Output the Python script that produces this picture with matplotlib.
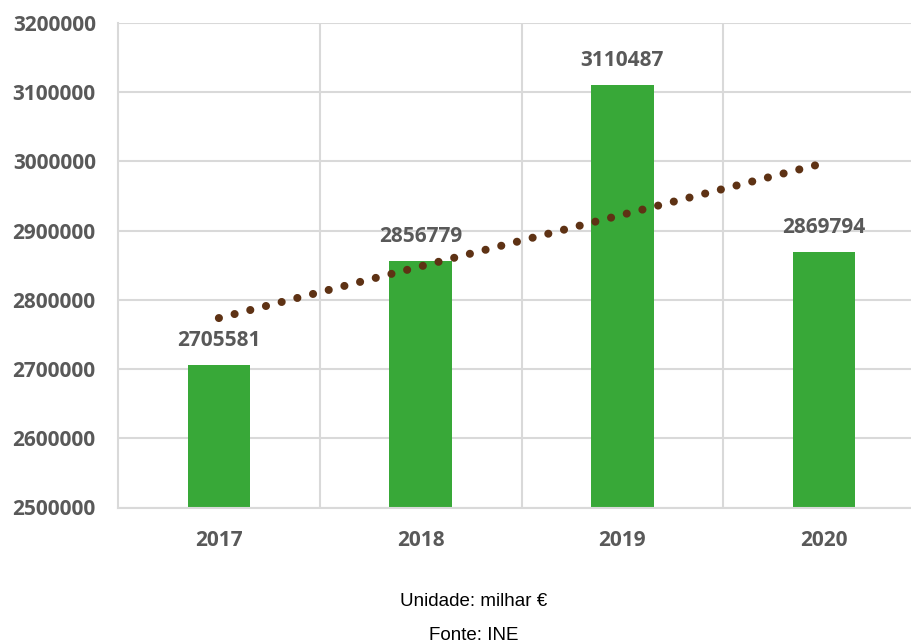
import numpy as np
import matplotlib
matplotlib.use("Agg")
import matplotlib.pyplot as plt
from matplotlib.ticker import FixedLocator

# Values (milhar €)
years = ["2017", "2018", "2019", "2020"]
values = [2705581, 2856779, 3110487, 2869794]
y_ticks = [2500000, 2600000, 2700000, 2800000, 2900000, 3000000, 3100000, 3200000]

bar_color = "#38A838"
trend_color = "#5E3214"
grid_color = "#D9D9D9"
text_color = "#595959"

fig = plt.figure(figsize=(9.12, 6.44), dpi=100)
ax = fig.add_axes([118 / 912, 1 - 507.5 / 644, 807 / 912, (507.5 - 23) / 644])

x = np.arange(len(years))
ax.bar(x, values, width=0.31, color=bar_color, zorder=2)

# linear trendline, like the spreadsheet one
slope, intercept = np.polyfit(x, values, 1)
ax.plot(x, slope * x + intercept, color=trend_color, lw=5.8,
        linestyle=(0, (0.01, 2.0)), dash_capstyle="round", zorder=3)

for xi, v in zip(x, values):
    ax.annotate(str(v), (xi, v), xytext=(0, 10), textcoords="offset points",
                ha="center", va="bottom", fontsize=15, fontweight="bold",
                color=text_color, family="Open Sans")

ax.set_xlim(-0.5, 3.5)
ax.set_ylim(2500000, 3200000)
ax.set_xticks(x)
ax.set_xticklabels(years)
ax.set_yticks(y_ticks)
ax.set_yticklabels([str(t) for t in y_ticks])
ax.xaxis.set_minor_locator(FixedLocator([0.5, 1.5, 2.5]))

ax.grid(axis="y", which="major", color=grid_color, lw=1.5, zorder=0)
ax.grid(axis="x", which="minor", color=grid_color, lw=1.5, zorder=0)
ax.set_axisbelow(True)

for s in ["top", "right"]:
    ax.spines[s].set_visible(False)
for s in ["left", "bottom"]:
    ax.spines[s].set_color(grid_color)
    ax.spines[s].set_linewidth(1.5)

ax.tick_params(axis="both", which="both", length=0)
ax.tick_params(axis="x", pad=16)
ax.tick_params(axis="y", pad=16)
for lbl in ax.get_xticklabels() + ax.get_yticklabels():
    lbl.set_fontsize(15)
    lbl.set_fontweight("bold")
    lbl.set_color(text_color)
    lbl.set_family("Open Sans")

fig.text(474 / 912, 1 - 601 / 644, "Unidade: milhar €", ha="center", va="center",
         fontsize=13.5, color="black", family="Liberation Sans")
fig.text(474 / 912, 1 - 635 / 644, "Fonte: INE", ha="center", va="center",
         fontsize=13.5, color="black", family="Liberation Sans")

fig.savefig("out.png", dpi=100)
